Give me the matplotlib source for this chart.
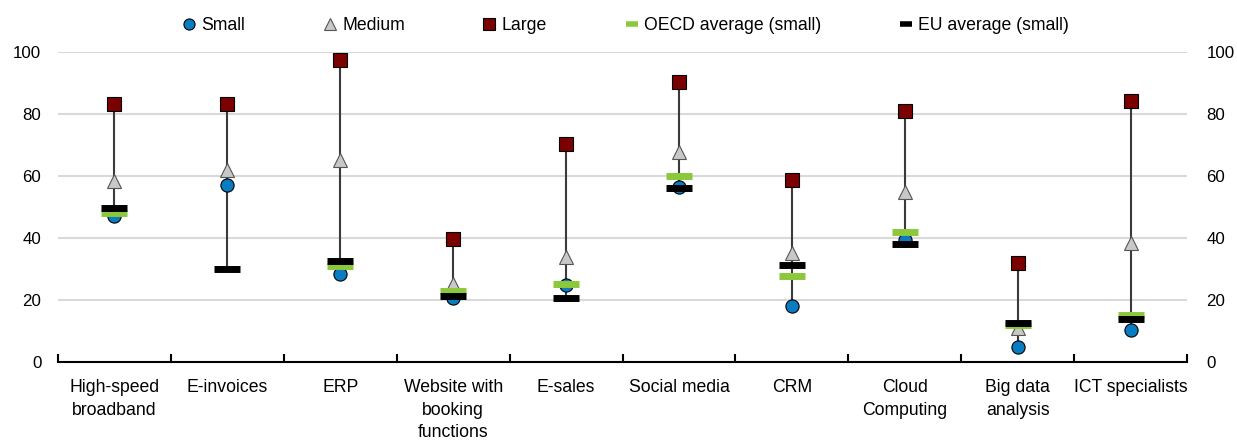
import numpy as np
import matplotlib
matplotlib.use("Agg")
import matplotlib.pyplot as plt
from matplotlib.lines import Line2D

plt.rcParams['font.family'] = ['Liberation Sans', 'DejaVu Sans']

categorias = ["High-speed\nbroadband", "E-invoices", "ERP", "Website with\nbooking\nfunctions",
              "E-sales", "Social media", "CRM", "Cloud\nComputing", "Big data\nanalysis",
              "ICT specialists"]
small = [47.0, 57.0, 28.5, 20.6, 24.8, 56.5, 18.0, 39.4, 4.8, 10.3]
medium = [58.4, 62.0, 65.2, 25.2, 34.0, 67.8, 35.3, 55.0, 11.0, 38.4]
large = [83.2, 83.2, 97.4, 39.6, 70.3, 90.4, 58.7, 81.0, 32.0, 84.2]
oecd = [48.0, np.nan, 31.0, 23.0, 25.3, 60.0, 27.6, 41.8, 12.0, 15.3]
eu = [49.7, 30.1, 32.7, 21.2, 20.5, 56.2, 31.2, 38.0, 12.6, 13.8]

azul = "#0A7CC1"
cinza = "#C8C8C8"
vermelho = "#7B0000"
verde = "#8CC83C"

fig = plt.figure(figsize=(12.37, 4.43), dpi=100)
ax = fig.add_axes([58/1237, 1-362/443, (1187-58)/1237, (362-52)/443])

x = np.arange(len(categorias))
tudo = np.array([small, medium, large, oecd, eu])
mins = np.nanmin(tudo, axis=0)
maxs = np.nanmax(tudo, axis=0)
ax.vlines(x, mins, maxs, color="#3A3A3A", lw=1.5, zorder=2)

ax.plot(x, small, 'o', ms=9.5, mfc=azul, mec="black", mew=0.8, ls='none', zorder=3, clip_on=False)
ax.plot(x, medium, '^', ms=10, mfc=cinza, mec="#555555", mew=0.8, ls='none', zorder=3, clip_on=False)
ax.plot(x, large, 's', ms=9.5, mfc=vermelho, mec="black", mew=0.8, ls='none', zorder=3, clip_on=False)
ax.plot(x, oecd, '_', ms=19, mec=verde, mew=5, ls='none', zorder=4, clip_on=False)
ax.plot(x, eu, '_', ms=19, mec="black", mew=5, ls='none', zorder=5, clip_on=False)

ax.set_xlim(-0.5, len(categorias) - 0.5)
ax.set_ylim(0, 100)
ax.set_yticks(range(0, 101, 20))
ax.set_xticks(x)
ax.set_xticklabels(categorias, fontsize=12.7, linespacing=1.45)
ax.set_xticks(np.arange(-0.5, len(categorias), 1), minor=True)
ax.tick_params(axis='x', which='major', length=0, pad=12)
ax.tick_params(axis='x', which='minor', direction='in', length=6, width=1.5, color="black")
ax.tick_params(axis='y', length=0, labelsize=12.2, pad=12)

# eixo da direita com as mesmas marcas
ax2 = ax.secondary_yaxis('right')
ax2.set_yticks(range(0, 101, 20))
ax2.tick_params(length=0, labelsize=12.2, pad=14)
ax2.spines['right'].set_visible(False)

for s in ['top', 'left', 'right']:
    ax.spines[s].set_visible(False)
ax.spines['bottom'].set_linewidth(1.5)
ax.grid(axis='y', color="#D9D9D9", lw=1.5, zorder=0)
ax.set_axisbelow(True)

handles = [
    Line2D([], [], marker='o', ls='none', ms=8, mfc=azul, mec="black", mew=0.8),
    Line2D([], [], marker='^', ls='none', ms=8, mfc=cinza, mec="#555555", mew=0.8),
    Line2D([], [], marker='s', ls='none', ms=8, mfc=vermelho, mec="black", mew=0.8),
    Line2D([], [], marker='_', ls='none', ms=9, mec=verde, mew=4),
    Line2D([], [], marker='_', ls='none', ms=9, mec="black", mew=4),
]
nomes = ["Small", "Medium", "Large", "OECD average (small)", "EU average (small)"]
fig.legend(handles, nomes, loc='center', bbox_to_anchor=(0.5057, 1-26/443), ncol=5,
           frameon=False, fontsize=12.7, handlelength=0.8, handletextpad=0.3,
           columnspacing=4.4, borderpad=0)

fig.savefig("out.png", dpi=100)
